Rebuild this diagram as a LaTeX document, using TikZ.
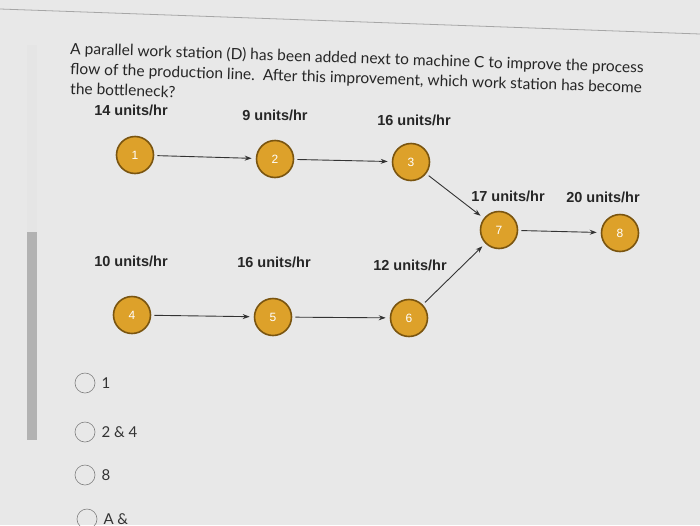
\documentclass[tikz,border=0pt]{standalone}
\usepackage{fontspec}
\setmainfont{Lato}
\newfontfamily\arialfont{Liberation Sans}
\usetikzlibrary{arrows.meta,positioning}
\definecolor{stationfill}{HTML}{DDA12A}
\definecolor{stationedge}{HTML}{7A5510}
\definecolor{screenbg}{HTML}{E8E8E8}

\begin{document}
\begin{tikzpicture}[x=1pt,y=-1pt,
    station/.style={circle,draw=stationedge,line width=1.6pt,fill=stationfill,
      minimum size=37pt,inner sep=0pt,text=white,font=\arialfont\fontsize{12}{12}\selectfont},
    rate/.style={font=\arialfont\bfseries\fontsize{14.5}{14.5}\selectfont,text=black!85},
    flow/.style={-{Stealth[length=7pt,width=5pt]},draw=black!80,line width=0.9pt,
      shorten >=4pt,shorten <=3pt},
    radio/.style={circle,draw=black!50,line width=0.6pt,minimum size=20pt,inner sep=0pt},
    answer/.style={font=\fontsize{15}{15}\selectfont,text=black!80,inner sep=0pt},
    question/.style={anchor=base west,inner sep=0pt,rotate=-1.9,
      font=\fontsize{15.5}{15.5}\selectfont,text=black!85}]
  % screen
  \fill[screenbg] (0,0) rectangle (700,525);
  \useasboundingbox (0,0) rectangle (700,525);
  \draw[black!35,line width=0.8pt] (0,9) -- (700,34);
  \fill[black!10] (27,45) rectangle (37,232);
  \fill[black!30] (27,232) rectangle (37,440);

  % question text
  \node[question] (q1) at (70,54) {A parallel work station (D) has been added next to machine C to improve the process};
  \node[question] (q2) at (70,74) {flow of the production line.\ \ After this improvement, which work station has become};
  \node[question] (q3) at (70,94) {the bottleneck?};

  % rates
  \node[rate] (r1) at (131,110) {14 units/hr};
  \node[rate] (r2) at (275,115) {9 units/hr};
  \node[rate] (r3) at (414,120) {16 units/hr};
  \node[rate] (r7) at (508,196) {17 units/hr};
  \node[rate] (r8) at (603,197) {20 units/hr};
  \node[rate] (r4) at (131,261) {10 units/hr};
  \node[rate] (r5) at (274,262) {16 units/hr};
  \node[rate] (r6) at (410,265) {12 units/hr};

  % work stations
  \node[station] (ws1) at (135,155) {1};
  \node[station] (ws2) at (275,159) {2};
  \node[station] (ws3) at (411,162) {3};
  \node[station] (ws7) at (499,230) {7};
  \node[station] (ws8) at (620,233) {8};
  \node[station] (ws4) at (132,315) {4};
  \node[station] (ws5) at (273,317) {5};
  \node[station] (ws6) at (409,318) {6};

  % flow
  \draw[flow] (ws1) -- (ws2);
  \draw[flow] (ws2) -- (ws3);
  \draw[flow] (ws3) -- (ws7);
  \draw[flow] (ws4) -- (ws5);
  \draw[flow] (ws5) -- (ws6);
  \draw[flow] (ws6) -- (ws7);
  \draw[flow] (ws7) -- (ws8);

  % answers
  \node[radio] (o1) at (85,383) {};
  \node[answer,right=6pt of o1] (a1) {1};
  \node[radio] (o2) at (85,432) {};
  \node[answer,right=6pt of o2] (a2) {2 \& 4};
  \node[radio] (o3) at (85,475) {};
  \node[answer,right=6pt of o3] (a3) {8};
  \node[radio] (o4) at (87,519) {};
  \node[answer,right=6pt of o4] (a4) {A \&};
\end{tikzpicture}
\end{document}
